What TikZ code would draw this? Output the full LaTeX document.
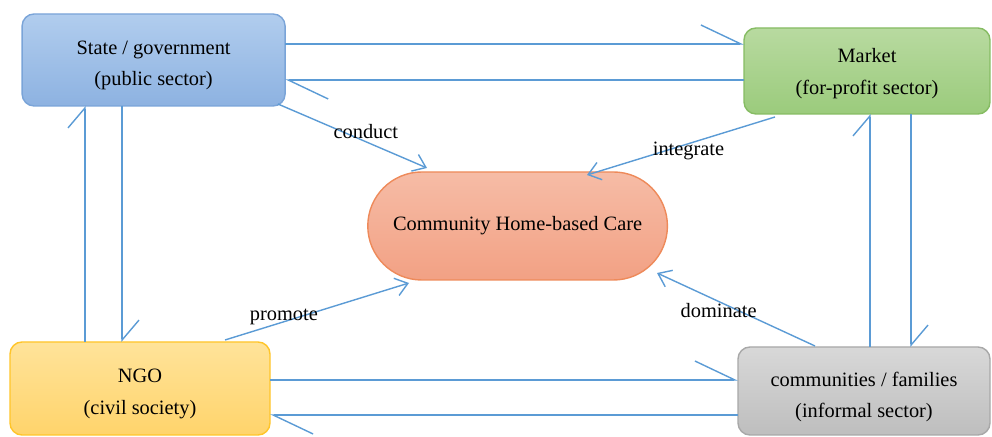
\documentclass[tikz,border=0pt]{standalone}
\usepackage{fontspec}
\setmainfont{Liberation Serif}
\usepackage{tikz}
\usetikzlibrary{calc}
\usetikzlibrary{arrows.meta}
\usetikzlibrary{shapes.misc}

\definecolor{arrowblue}{HTML}{5B9BD5}
\definecolor{govtop}{HTML}{B1CDEE}
\definecolor{govbot}{HTML}{8DB2E1}
\definecolor{govline}{HTML}{7AA4D8}
\definecolor{mkttop}{HTML}{B8DAA0}
\definecolor{mktbot}{HTML}{9BCB7C}
\definecolor{mktline}{HTML}{86BC63}
\definecolor{caretop}{HTML}{F6BCA6}
\definecolor{carebot}{HTML}{F2A184}
\definecolor{careline}{HTML}{EE8A5A}
\definecolor{ngotop}{HTML}{FFE39A}
\definecolor{ngobot}{HTML}{FFD46B}
\definecolor{ngoline}{HTML}{FFC52A}
\definecolor{famtop}{HTML}{D8D8D8}
\definecolor{fambot}{HTML}{BEBEBE}
\definecolor{famline}{HTML}{A8A8A8}

\begin{document}
\begin{tikzpicture}[
	font=\fontsize{14.5}{22.5}\selectfont,
	box/.style={draw, line width=1pt, rounded corners=0.3cm, align=center, outer sep=0pt, text height=40pt},
	hlink/.style={draw=arrowblue, line width=1pt, -{Straight Barb[left, length=1cm, width=0.95cm]}},
	vlink/.style={draw=arrowblue, line width=1pt, -{Straight Barb[left, length=0.5cm, width=0.85cm]}},
	tocare/.style={draw=arrowblue, line width=1pt, -{Straight Barb[length=0.3cm, width=0.45cm]}}
	]
	\useasboundingbox (0,0) rectangle (24.8,10.925);
	
	\node[box, draw=govline, top color=govtop, bottom color=govbot, minimum width=6.575cm, minimum height=2.3cm] (gov) at (3.84,9.425) {State / government\\(public sector)};
	\node[box, draw=mktline, top color=mkttop, bottom color=mktbot, minimum width=6.15cm, minimum height=2.15cm, text height=36pt] (mkt) at (21.675,9.15) {Market\\(for-profit sector)};
	\node[rounded rectangle, draw=careline, line width=1pt, top color=caretop, bottom color=carebot, minimum width=7.725cm, minimum height=2.7cm, outer sep=0pt] (care) at (12.94,5.275) {Community Home-based Care};
	\node[box, draw=ngoline, top color=ngotop, bottom color=ngobot, minimum width=6.5cm, minimum height=2.325cm] (ngo) at (3.5,1.2125) {NGO\\(civil society)};
	\node[box, draw=famline, top color=famtop, bottom color=fambot, minimum width=6.3cm, minimum height=2.2cm, text height=41pt] (fam) at (21.6,1.15) {communities / families\\(informal sector)};
	
	% between the sectors
	\draw[hlink] (gov.east |- 0,9.825) -- (mkt.west |- 0,9.825);
	\draw[hlink] (mkt.west |- 0,8.925) -- (gov.east |- 0,8.925);
	\draw[vlink] (gov.south -| 3.05,0) -- (ngo.north -| 3.05,0);
	\draw[vlink] (ngo.north -| 2.125,0) -- (gov.south -| 2.125,0);
	\draw[vlink] (mkt.south -| 22.775,0) -- (fam.north -| 22.775,0);
	\draw[vlink] (fam.north -| 21.75,0) -- (mkt.south -| 21.75,0);
	\draw[hlink] (ngo.east |- 0,1.425) -- (fam.west |- 0,1.425);
	\draw[hlink] (fam.west |- 0,0.55) -- (ngo.east |- 0,0.55);
	
	% into the care
	\draw[tocare] ($(gov.south east)+(-0.18,0.05)$) -- ($(care.north)+(-2.265,0.1)$) node[pos=.59, above, inner sep=2pt]{conduct};
	\draw[tocare] ($(mkt.south west)+(0.775,-0.075)$) -- ($(care.north)+(1.735,-0.075)$) node[pos=.46, yshift=-5pt]{integrate};
	\draw[tocare] ($(ngo.north)+(2.125,0.05)$) -- ($(care.south)+(-2.715,-0.075)$) node[pos=.32, above, inner sep=0pt, yshift=-3pt]{promote};
	\draw[tocare] ($(fam.north)+(-1.225,0.025)$) -- ($(care.south)+(3.485,0.175)$) node[pos=.61, below, inner sep=1pt]{dominate};
\end{tikzpicture}
\end{document}
